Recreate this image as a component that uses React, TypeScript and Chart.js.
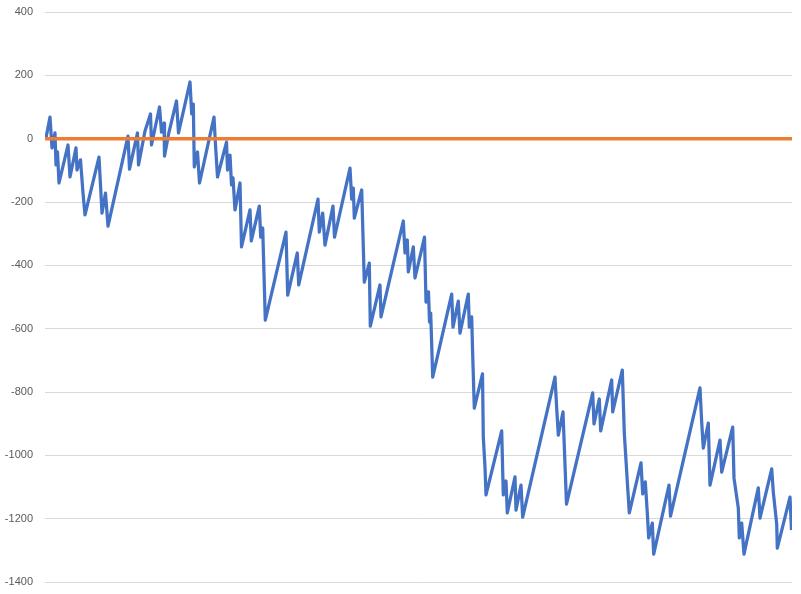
import React, { useEffect, useRef } from "react";
import { Chart, registerables } from "chart.js";

Chart.register(...registerables);

// trade number (position along the horizontal axis)
const tradeIndex = [
  1, 5, 7, 10, 11, 12.5, 14, 23, 25, 31, 32, 35.5, 38, 40, 54, 57, 60.5, 63, 83, 84.5,
  92.5, 93.5, 100, 105.5, 106.5, 114.5, 116.5, 119, 119.5, 124, 131.5, 133.5, 145, 146.7, 148.3, 149.3,
  152.5, 154.5, 169, 170.5, 172.5, 181.5, 182.5, 185, 186.5, 188, 190, 195, 196.5, 205, 206.3,
  214.3, 215.7, 217.7, 220.3, 241, 242.7, 252.3, 253.7, 273, 274.3, 277.7, 280, 288, 289.5,
  305, 306.7, 308.3, 309.3, 316.7, 319.3, 324.3, 325.3, 335, 336, 358.3, 360, 362.3, 363.3,
  368.3, 370, 379.5, 381, 383.5, 384.5, 385.7, 387.7, 406.7, 408, 413.3, 415, 423.3, 424.3,
  426.7, 427.5, 429.3, 437.5, 438.3, 440, 441, 456.7, 458.3, 461, 462.3, 470, 471, 476, 477.7,
  510, 511.7, 513.3, 518, 521.5, 547.7, 549, 554.3, 555.7, 566.7, 567.7, 577.3, 579.3, 582.7,
  584.3, 596, 597.7, 600.3, 602.3, 603.7, 607.3, 608.7, 624, 625.5, 655, 656.7, 658.3, 663.3,
  665, 675, 676.7, 687.7, 689, 693.3, 694.3, 696.7, 699, 713.3, 715, 726.7, 728.3, 731.7,
  732.3, 745, 746.5,
];

// cumulative result
const equity = [
  2, 68, -29, 18, -83, -42, -140, -20, -121, -29, -99, -67, -172, -241, -58, -235, -172, -276, 8, -96,
  18, -83, 24, 78, -20, 100, 21, 49, -55, 21, 119, 18, 179, 78, 109, -89,
  -42, -140, 68, -20, -121, -11, -99, -52, -146, -124, -225, -140, -342, -225, -323,
  -213, -311, -282, -573, -295, -494, -361, -462, -191, -295, -235, -336, -213, -311,
  -93, -191, -156, -251, -162, -453, -393, -592, -462, -563, -260, -361, -320, -421,
  -342, -440, -311, -516, -484, -579, -551, -753, -491, -595, -513, -614, -491, -595,
  -563, -661, -851, -743, -942, -1037, -1125, -923, -1125, -1081, -1182, -1068, -1173, -1094, -1195,
  -753, -851, -936, -863, -1154, -803, -901, -822, -923, -762, -863, -731, -930, -1103,
  -1182, -1024, -1122, -1084, -1182, -1261, -1214, -1312, -1094, -1192, -787, -895, -977, -898,
  -1094, -952, -1053, -911, -1072, -1166, -1261, -1214, -1312, -1103, -1198, -1043, -1116, -1217,
  -1293, -1132, -1236,
];

// zero reference line
const baselineIndex = [0, 747];
const baselineValue = [0, 0];

const yMin = -1400;
const yMax = 400;
const yStep = 200;

export default function App() {
  const canvasRef = useRef<HTMLCanvasElement | null>(null);

  useEffect(() => {
    document.body.style.margin = "0";
    const canvas = canvasRef.current;
    if (!canvas) return;
    const chart = new Chart(canvas, {
      type: "line",
      data: {
        datasets: [
          {
            label: "Zero",
            data: baselineIndex.map((x, i) => ({ x, y: baselineValue[i] })),
            borderColor: "#ED7D31",
            borderWidth: 3.5,
            pointRadius: 0,
            tension: 0,
            order: 0,
          },
          {
            label: "Equity",
            data: tradeIndex.map((x, i) => ({ x, y: equity[i] })),
            borderColor: "#4472C4",
            borderWidth: 3.25,
            pointRadius: 0,
            tension: 0,
            borderJoinStyle: "round",
            order: 1,
          },
        ],
      },
      options: {
        animation: false,
        responsive: false,
        devicePixelRatio: 1,
        layout: { padding: { top: 12, bottom: 12, left: 0, right: 9 } },
        plugins: { legend: { display: false }, tooltip: { enabled: false } },
        scales: {
          x: {
            type: "linear",
            min: 0,
            max: 747,
            display: false,
          },
          y: {
            min: yMin,
            max: yMax,
            border: { display: false },
            grid: { color: "#D9D9D9", lineWidth: 1, drawTicks: false },
            ticks: {
              stepSize: yStep,
              padding: 12,
              color: "#595959",
              font: { family: "'Liberation Sans', Arial, sans-serif", size: 11 },
              callback: (v: any) => String(v),
            },
            afterFit: (scale: any) => {
              scale.width = 45;
              scale.paddingTop = 6;
              scale.paddingBottom = 6;
            },
          },
        },
      },
    });
    return () => chart.destroy();
  }, []);

  return (
    <div style={{ position: "absolute", left: 0, top: 0, width: 801, height: 594, background: "#fff" }}>
      <canvas ref={canvasRef} width={801} height={594} />
    </div>
  );
}
